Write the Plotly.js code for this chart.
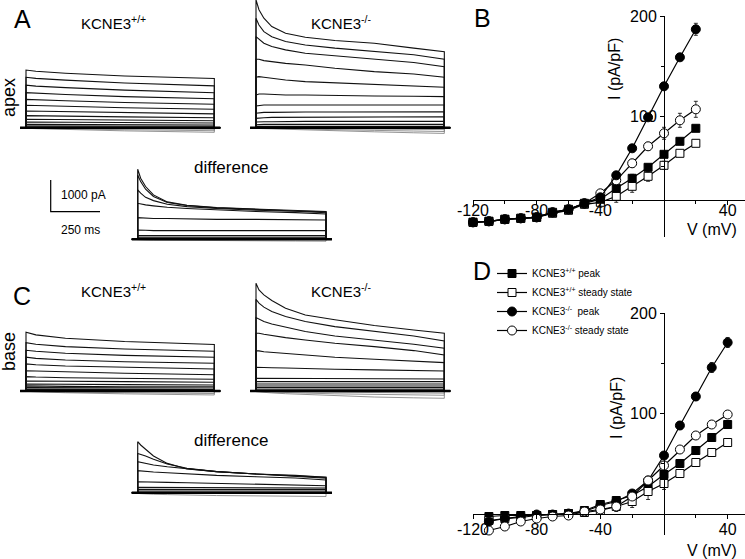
<!DOCTYPE html>
<html><head><meta charset="utf-8">
<script src="https://cdn.plot.ly/plotly-3.0.1.min.js"></script>
<style>html,body{margin:0;padding:0;background:#fff}#chart{width:745px;height:559px}</style>
</head><body><div id="chart"></div>
<script>
// ---------- current-trace data (pA) ----------
const tWT = [0, 50, 200, 500, 955];                       // ms
const tKO = [0, 15, 40, 80, 150, 250, 400, 600, 800, 955]; // ms

const apexWT = [
  [1820, 1780, 1720, 1630, 1550],
  [1590, 1555, 1500, 1410, 1320],
  [1340, 1310, 1265, 1185, 1105],
  [1105, 1085, 1045, 980, 915],
  [895, 880, 850, 795, 740],
  [710, 700, 675, 630, 580],
  [525, 520, 500, 470, 435],
  [380, 375, 360, 340, 315],
  [265, 262, 252, 238, 220],
  [180, 178, 170, 160, 150],
  [105, 104, 100, 92, 85],
  [55, 54, 52, 48, 45]
];
const apexWTneg = [
  [-15, -30, -60, -100, -145],
  [-10, -20, -40, -65, -95],
  [-5, -10, -20, -32, -50]
];
const apexKO = [
  [4035, 3720, 3455, 3190, 2980, 2855, 2750, 2665, 2510, 2400],
  [3450, 3240, 3030, 2870, 2720, 2610, 2510, 2400, 2300, 2160],
  [2875, 2790, 2665, 2560, 2455, 2350, 2265, 2160, 2055, 1925],
  [2160, 2160, 2115, 2085, 2030, 1980, 1875, 1770, 1695, 1590],
  [1590, 1610, 1590, 1560, 1505, 1455, 1420, 1380, 1325, 1275],
  [1030, 1065, 1065, 1055, 1030, 1030, 1010, 1000, 990, 980],
  [685, 705, 715, 715, 715, 715, 715, 715, 715, 715],
  [455, 475, 485, 485, 495, 495, 495, 505, 505, 505],
  [295, 305, 315, 325, 325, 335, 335, 345, 345, 345],
  [180, 190, 190, 190, 200, 200, 200, 200, 200, 200],
  [95, 105, 105, 105, 105, 105, 105, 105, 105, 105],
  [42, 42, 42, 42, 42, 42, 42, 42, 42, 42]
];
const apexKOneg = [
  [-20, -25, -30, -40, -55, -75, -100, -130, -160, -180],
  [-10, -15, -20, -25, -35, -50, -65, -85, -105, -120],
  [-5, -8, -10, -15, -20, -25, -35, -45, -55, -60]
];
const apexDiff = [
  [2210, 1925, 1665, 1400, 1180, 1075, 1000, 950, 905, 875],
  [2030, 1820, 1580, 1350, 1160, 1065, 990, 935, 895, 865],
  [1560, 1455, 1325, 1220, 1105, 1030, 970, 915, 885, 840],
  [1135, 1115, 1085, 1055, 1010, 970, 925, 875, 840, 800],
  [685, 675, 665, 655, 655, 640, 630, 630, 620, 610],
  [295, 285, 285, 275, 275, 275, 275, 275, 275, 275],
  [115, 115, 115, 115, 115, 115, 115, 115, 115, 115],
  [63, 63, 63, 63, 63, 63, 63, 63, 63, 63],
  [32, 32, 32, 32, 32, 32, 32, 32, 32, 32]
];
const apexDiffNeg = [
  [-10, -15, -20, -25, -30, -35, -40, -50, -55, -60]
];
const baseWT = [
  [1855, 1770, 1665, 1560, 1465],
  [1525, 1475, 1400, 1325, 1255],
  [1285, 1255, 1190, 1125, 1065],
  [1065, 1030, 980, 925, 875],
  [855, 830, 790, 750, 695],
  [640, 630, 600, 560, 515],
  [455, 440, 420, 400, 370],
  [315, 315, 305, 295, 275],
  [220, 220, 210, 200, 190],
  [160, 160, 145, 135, 135],
  [105, 105, 100, 95, 95],
  [53, 53, 50, 48, 47]
];
const baseWTneg = [
  [-10, -25, -55, -90, -125],
  [-5, -15, -35, -55, -80]
];
const baseKO = [
  [3400, 3190, 3030, 2855, 2610, 2400, 2245, 2065, 1925, 1820],
  [2895, 2770, 2645, 2505, 2350, 2190, 2030, 1875, 1735, 1580],
  [2315, 2265, 2190, 2115, 2010, 1875, 1735, 1610, 1475, 1350],
  [1820, 1820, 1790, 1750, 1685, 1610, 1505, 1400, 1275, 1135],
  [1265, 1265, 1240, 1220, 1190, 1135, 1065, 1000, 950, 895],
  [750, 750, 750, 735, 725, 705, 685, 665, 640, 630],
  [400, 400, 400, 395, 395, 390, 390, 385, 380, 380],
  [295, 295, 295, 295, 295, 295, 295, 295, 295, 295],
  [220, 220, 220, 220, 220, 220, 220, 220, 220, 220],
  [160, 160, 160, 160, 160, 160, 160, 160, 160, 160],
  [105, 105, 105, 105, 105, 105, 105, 105, 105, 105],
  [53, 53, 53, 53, 53, 53, 53, 53, 53, 53]
];
const baseKOneg = [
  [-20, -30, -45, -60, -85, -110, -150, -190, -215, -230],
  [-10, -15, -25, -35, -50, -65, -90, -110, -125, -135],
  [-5, -8, -12, -18, -25, -32, -45, -55, -62, -68]
];
const baseDiff = [
  [1610, 1505, 1370, 1160, 925, 750, 665, 590, 545, 485],
  [1240, 1210, 1160, 1055, 905, 770, 665, 590, 535, 485],
  [980, 960, 925, 875, 820, 750, 665, 590, 525, 455],
  [695, 685, 675, 655, 630, 590, 545, 505, 465, 400],
  [345, 345, 345, 335, 325, 315, 295, 275, 240, 220],
  [170, 170, 170, 168, 165, 162, 160, 157, 153, 150],
  [105, 105, 105, 105, 105, 105, 105, 105, 105, 105],
  [53, 53, 53, 53, 53, 53, 53, 53, 53, 53]
];
const baseDiffNeg = [
  [-20, -30, -40, -50, -60, -75, -90, -100, -110, -120]
];
// scale bar: 1000 pA, 250 ms
const scaleT = [0, 0, 250];
const scaleI = [1000, 0, 0];

// ---------- I-V data (pA/pF) ----------
const vB = [-120, -110, -100, -90, -80, -70, -60, -50, -40, -30, -20, -10, 0, 10, 20];
const bWTpeak = [-6, -5, -3, -2, -1, 4, 7, 13, 17, 28, 38, 49, 62, 75, 88];
const bWTpeakErr = [2, 1, 1, 1, 1, 1, 1, 2, 2, 3, 4, 3, 3, 3, 2];
const bWTss = [-6, -5, -3, -2, -1, 3, 6, 12, 14, 20, 30, 40, 51, 63, 73];
const bWTssErr = [2, 1, 1, 1, 1, 2, 2, 4, 5, 6, 6, 5, 4, 3, 3];
const bKOpeak = [-6, -5, -3, -2, -1, 4, 7, 13, 19, 41, 68, 99, 130, 159, 187];
const bKOpeakErr = [1, 1, 1, 1, 1, 1, 1, 2, 2, 2, 2, 3, 3, 3, 6];
const bKOss = [-6, -5, -3, -2, -1, 4, 7, 13, 23, 36, 53, 70, 83, 96, 107];
const bKOssErr = [1, 1, 1, 1, 1, 1, 1, 2, 3, 4, 4, 4, 6, 7, 8];

const vD = [-110, -100, -90, -80, -70, -60, -50, -40, -30, -20, -10, 0, 10, 20, 30, 40];
const dWTpeak = [-3, -2, -2, -2, -1, 0, 3, 9, 13, 18, 27, 39, 50, 63, 76, 89];
const dWTpeakErr = [2, 2, 1, 1, 1, 1, 1, 2, 3, 3, 4, 4, 4, 4, 3, 3];
const dWTss = [-7, -5, -4, -2, -1, 0, 1, 3, 7, 12, 22, 30, 40, 51, 61, 71];
const dWTssErr = [2, 2, 1, 1, 1, 1, 1, 2, 5, 6, 8, 6, 4, 3, 3, 3];
const dKOpeak = [-8, -5, -3, -1, -1, 0, 2, 8, 12, 20, 33, 58, 88, 117, 146, 171];
const dKOpeakErr = [2, 1, 1, 1, 1, 1, 1, 2, 2, 3, 3, 3, 4, 4, 5, 5];
const dKOss = [-17, -13, -8, -5, -3, -2, 2, 4, 7, 17, 33, 48, 64, 78, 89, 99];
const dKOssErr = [2, 2, 1, 1, 1, 1, 1, 2, 2, 3, 4, 3, 3, 3, 3, 3];

const seriesNames = ['KCNE3<sup>+/+</sup> peak', 'KCNE3<sup>+/+</sup> steady state',
                     'KCNE3<sup>-/-</sup>  peak', 'KCNE3<sup>-/-</sup> steady state'];

// ---------- layout helpers ----------
const W = 745, H = 559;
const PXMS = 49.3 / 250;   // px per ms
const PXPA = 31.7 / 1000;  // px per pA
const FONT = 'Liberation Sans, Arial, sans-serif';
const layout = {
  width: W, height: H, margin: {l: 0, r: 0, t: 0, b: 0},
  paper_bgcolor: '#fff', plot_bgcolor: 'rgba(0,0,0,0)',
  showlegend: true, font: {family: FONT, color: '#000'},
  annotations: []
};
const traces = [];

function panel(idx, x0, y0, left, right, top, bottom) {
  const xa = idx === 1 ? 'xaxis' : 'xaxis' + idx;
  const ya = idx === 1 ? 'yaxis' : 'yaxis' + idx;
  layout[xa] = {domain: [left / W, right / W], range: [(left - x0) / PXMS, (right - x0) / PXMS],
    visible: false, anchor: idx === 1 ? 'y' : 'y' + idx, fixedrange: true};
  layout[ya] = {domain: [1 - bottom / H, 1 - top / H], range: [(y0 - bottom) / PXPA, (y0 - top) / PXPA],
    visible: false, anchor: idx === 1 ? 'x' : 'x' + idx, fixedrange: true};
}
function sweeps(idx, times, pos, neg) {
  const xr = idx === 1 ? 'x' : 'x' + idx, yr = idx === 1 ? 'y' : 'y' + idx;
  const tEnd = times[times.length - 1];
  function path(list) {
    const xs = [], ys = [];
    list.forEach(v => {
      xs.push(-30, 0); ys.push(0, 0);
      times.forEach((t, i) => { xs.push(t); ys.push(v[i]); });
      xs.push(tEnd, tEnd + 30, null); ys.push(0, 0, null);
    });
    return {xs, ys};
  }
  const n = path(neg);
  traces.push({type: 'scatter', mode: 'lines', x: n.xs, y: n.ys, xaxis: xr, yaxis: yr,
    line: {color: '#777', width: 0.8}, showlegend: false, hoverinfo: 'skip', connectgaps: false});
  const p = path(pos);
  traces.push({type: 'scatter', mode: 'lines', x: p.xs, y: p.ys, xaxis: xr, yaxis: yr,
    line: {color: '#111', width: 1.1}, showlegend: false, hoverinfo: 'skip', connectgaps: false});
  const zeros = times.map(() => 0);
  const z = path([zeros]);
  traces.push({type: 'scatter', mode: 'lines', x: z.xs, y: z.ys, xaxis: xr, yaxis: yr,
    line: {color: '#000', width: 2.4}, showlegend: false, hoverinfo: 'skip'});
}

panel(1, 26, 127.7, 10, 232, 40, 142);   sweeps(1, tWT, apexWT, apexWTneg);
panel(2, 256, 127.7, 240, 462, 0, 142);  sweeps(2, tKO, apexKO, apexKOneg);
panel(3, 137.7, 239.3, 120, 342, 150, 252); sweeps(3, tKO, apexDiff, apexDiffNeg);
panel(4, 26, 391, 10, 232, 300, 405);    sweeps(4, tWT, baseWT, baseWTneg);
panel(5, 256, 391, 240, 462, 270, 410);  sweeps(5, tKO, baseKO, baseKOneg);
panel(6, 137.7, 492.7, 120, 342, 410, 505); sweeps(6, tKO, baseDiff, baseDiffNeg);
panel(7, 50.7, 211.7, 40, 120, 170, 220);
traces.push({type: 'scatter', mode: 'lines', x: scaleT, y: scaleI, xaxis: 'x7', yaxis: 'y7',
  line: {color: '#000', width: 1.2}, showlegend: false, hoverinfo: 'skip'});

// ---------- I-V panels ----------
function ivAxes(idx, top, bottom, yzeroPx, xAxisPx, standoff) {
  const PXMV = (664 - 473) / 120;
  const xa = 'xaxis' + idx, ya = 'yaxis' + idx;
  const tickfont = {family: FONT, size: 16, color: '#000'};
  layout[xa] = {domain: [473 / W, 745 / W], range: [-120, (745 - 664) / PXMV],
    anchor: 'free', position: 1 - xAxisPx / H, side: 'bottom',
    showline: true, linecolor: '#000', linewidth: 1, showgrid: false, zeroline: false,
    tickmode: 'array', tickvals: [-120, -80, -40, 40], ticktext: ['-120', '-80', '-40', '40'],
    ticks: 'outside', ticklen: 4, tickcolor: '#000', tickwidth: 1, tickfont: tickfont,
    ticklabelstandoff: standoff,
    minor: {tickmode: 'array', tickvals: [-100, -60, -20, 20], ticks: 'outside', ticklen: 3, tickcolor: '#000', showgrid: false},
    fixedrange: true};
  layout[ya] = {domain: [1 - bottom / H, 1 - top / H], range: [yzeroPx - bottom, yzeroPx - top],
    anchor: 'free', position: 664 / W, side: 'left',
    showline: true, linecolor: '#000', linewidth: 1, showgrid: false, zeroline: false,
    tickmode: 'array', tickvals: [100, 200], ticktext: ['100', '200'],
    ticks: 'outside', ticklen: 4, tickcolor: '#000', tickwidth: 1, tickfont: tickfont,
    minor: {tickmode: 'array', tickvals: [50, 150], ticks: 'outside', ticklen: 3, tickcolor: '#000', showgrid: false},
    fixedrange: true};
}
ivAxes(8, 16, 237, 216.3, 200, -8);
ivAxes(9, 313.3, 535, 513.5, 514, -3);

const styles = [
  {symbol: 'square', color: '#000', size: 8},
  {symbol: 'square', color: '#fff', size: 8},
  {symbol: 'circle', color: '#000', size: 9},
  {symbol: 'circle', color: '#fff', size: 9}
];
function ivTrace(idx, v, y, err, k, legend) {
  traces.push({type: 'scatter', mode: 'lines+markers', x: v, y: y,
    xaxis: 'x' + idx, yaxis: 'y' + idx, name: seriesNames[k], showlegend: legend,
    line: {color: '#000', width: 1.2},
    marker: {symbol: styles[k].symbol, size: styles[k].size, color: styles[k].color, line: {color: '#000', width: 1}},
    error_y: {type: 'data', array: err, visible: true, color: '#000', thickness: 0.8, width: 2},
    cliponaxis: false, hoverinfo: 'skip'});
}
ivTrace(8, vB, bWTss, bWTssErr, 1, false);
ivTrace(8, vB, bWTpeak, bWTpeakErr, 0, false);
ivTrace(8, vB, bKOss, bKOssErr, 3, false);
ivTrace(8, vB, bKOpeak, bKOpeakErr, 2, false);
ivTrace(9, vD, dWTpeak, dWTpeakErr, 0, true);
ivTrace(9, vD, dWTss, dWTssErr, 1, true);
ivTrace(9, vD, dKOpeak, dKOpeakErr, 2, true);
ivTrace(9, vD, dKOss, dKOssErr, 3, true);

layout.legend = {x: 492 / W, y: 1 - 259 / H, xanchor: 'left', yanchor: 'top',
  bgcolor: 'rgba(0,0,0,0)', font: {family: FONT, size: 10, color: '#000'},
  itemwidth: 30, tracegroupgap: 0, traceorder: 'normal'};

// ---------- text ----------
function note(text, px, py, size, angle) {
  layout.annotations.push({text: text, x: px / W, y: 1 - py / H, xref: 'paper', yref: 'paper',
    xanchor: 'center', yanchor: 'middle', showarrow: false, textangle: angle || 0,
    font: {family: FONT, size: size, color: '#000'}});
}
note('A', 22, 19, 25); note('B', 482, 18, 25); note('C', 22, 296, 25); note('D', 482, 271, 25);
note('KCNE3<sup>+/+</sup>', 113, 22, 15); note('KCNE3<sup>-/-</sup>', 341, 22, 15);
note('KCNE3<sup>+/+</sup>', 113, 290, 15); note('KCNE3<sup>-/-</sup>', 341, 290, 15);
note('difference', 231, 168, 17); note('difference', 231, 440, 17);
note('apex', 9, 98, 18, -90); note('base', 9, 352, 18, -90);
note('1000 pA', 83.5, 195, 12); note('250 ms', 80, 230, 12);
note('I (pA/pF)', 614, 69, 16, -90); note('I (pA/pF)', 616, 408, 16, -90);
note('V (mV)', 712, 229, 16); note('V (mV)', 712, 550, 16);

Plotly.newPlot('chart', traces, layout, {staticPlot: true, displayModeBar: false});
</script></body></html>
